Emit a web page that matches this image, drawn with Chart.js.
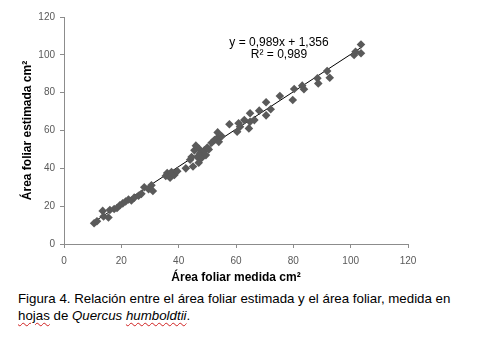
<!DOCTYPE html>
<html><head><meta charset="utf-8">
<script src="https://cdn.jsdelivr.net/npm/chart.js@4.4.0/dist/chart.umd.min.js"></script>
<style>
html,body{margin:0;padding:0;background:#fff;}
#wrap{position:relative;width:481px;height:337px;overflow:hidden;}
#c{position:absolute;left:0;top:0;}
#cap{position:absolute;left:18px;top:290px;font-family:"Liberation Sans",Arial,sans-serif;font-size:13.3px;line-height:17px;color:#000;width:463px;white-space:nowrap;}
.sp{text-decoration:underline wavy #d02020;text-decoration-thickness:1px;text-underline-offset:2px;}
</style></head>
<body><div id="wrap"><canvas id="c" width="481" height="290"></canvas>
<div id="cap">Figura 4. Relación entre el área foliar estimada y el área foliar, medida en<br><span class="sp">hojas</span> de <i>Quercus <span class="sp">humboldtii</span></i>.</div></div>
<script>
const measured = [10.5,11.5,13.5,13.8,15.5,16,17.5,18.5,19.5,20.5,21.5,22.5,23.5,24.5,26,27,28,29.5,30.5,31,
 35.5,36,37,37.5,38.5,39.5,42.5,44,44.5,45,45.5,46,46.5,47,47,47.5,48,48.5,49,49.5,50,50.5,51.5,52.5,53.5,54,55,53.6,
 57.7,60.4,60.9,61.4,62.9,64.5,64.9,64.9,66.4,68.1,70.5,70.5,72.1,75.3,79.8,80.3,83.1,83.7,88.4,88.7,91.8,92.7,101.2,101.7,103.6,103.6];
const estimated = [11,12,17.5,14.5,14,18,18.5,19,20.5,21.5,22.5,23.5,23,24.5,25.5,26.5,30,29,31,28,
 36,37.5,35,38,36.5,38.5,40,44.5,46,41,49.5,52,46,43,50.5,48,45.5,47.5,49.5,47,51,50,53.5,55,56,54,57,59,
 63.3,59.4,63.8,62,65.5,61.1,64.6,69.1,65.5,70.5,68,74.9,71.2,78.2,76.1,81.9,83.7,81.8,87.6,84.9,91.4,87.9,99.9,101.6,100.8,105.5];
const trendX = [10, 104];
const trendY = [11.25, 104.2];
const eqLines = ["y = 0,989x + 1,356", "R² = 0,989"];
const xTicks = [0,20,40,60,80,100,120];
const yTicks = [0,20,40,60,80,100,120];

const pts = measured.map((x,i)=>({x:x,y:estimated[i]}));
const trend = trendX.map((x,i)=>({x:x,y:trendY[i]}));

const eqPlugin = {id:'eq', afterDatasetsDraw(chart){
  const ctx=chart.ctx, xs=chart.scales.x, ys=chart.scales.y;
  ctx.save();
  ctx.font='12px "Liberation Sans", Arial, sans-serif';
  ctx.fillStyle='#000';ctx.textAlign='center';ctx.textBaseline='middle';
  ctx.fillText(eqLines[0], xs.getPixelForValue(75), ys.getPixelForValue(106.6));
  ctx.fillText(eqLines[1], xs.getPixelForValue(75), ys.getPixelForValue(100.3));
  ctx.restore();
}};

new Chart(document.getElementById('c'),{
  type:'scatter',
  data:{datasets:[
    {data:pts,pointStyle:'rectRot',pointRadius:4.3,backgroundColor:'#5a5a5a',borderColor:'#5a5a5a',borderWidth:0,order:1},
    {type:'line',data:trend,borderColor:'#000',borderWidth:1,pointRadius:0,fill:false,order:2}
  ]},
  options:{responsive:false,animation:false,devicePixelRatio:1,
    layout:{padding:{top:17,right:73,left:0,bottom:0}},
    plugins:{legend:{display:false},tooltip:{enabled:false}},
    scales:{
      x:{type:'linear',min:0,max:120,
        afterBuildTicks(s){s.ticks=xTicks.map(v=>({value:v}));},
        afterFit(s){s.height=46;},
        grid:{drawOnChartArea:false,tickLength:4,color:'#8c8c8c'},
        border:{color:'#8c8c8c'},
        ticks:{padding:7,color:'#595959',font:{family:'"Liberation Sans", Arial, sans-serif',size:10}},
        title:{display:true,text:'Área foliar medida cm²',color:'#000',padding:{top:0,bottom:5},font:{family:'"Liberation Sans", Arial, sans-serif',size:12,weight:'bold'}}
      },
      y:{type:'linear',min:0,max:120,
        afterBuildTicks(s){s.ticks=yTicks.map(v=>({value:v}));},
        afterFit(s){s.width=64;},
        grid:{drawOnChartArea:false,tickLength:4,color:'#8c8c8c'},
        border:{color:'#8c8c8c'},
        ticks:{padding:5,color:'#595959',font:{family:'"Liberation Sans", Arial, sans-serif',size:10}},
        title:{display:true,text:'Área foliar estimada cm²',color:'#000',padding:{top:20,bottom:0},font:{family:'"Liberation Sans", Arial, sans-serif',size:12,weight:'bold'}}
      }
    }
  },
  plugins:[eqPlugin]
});
</script></body></html>
